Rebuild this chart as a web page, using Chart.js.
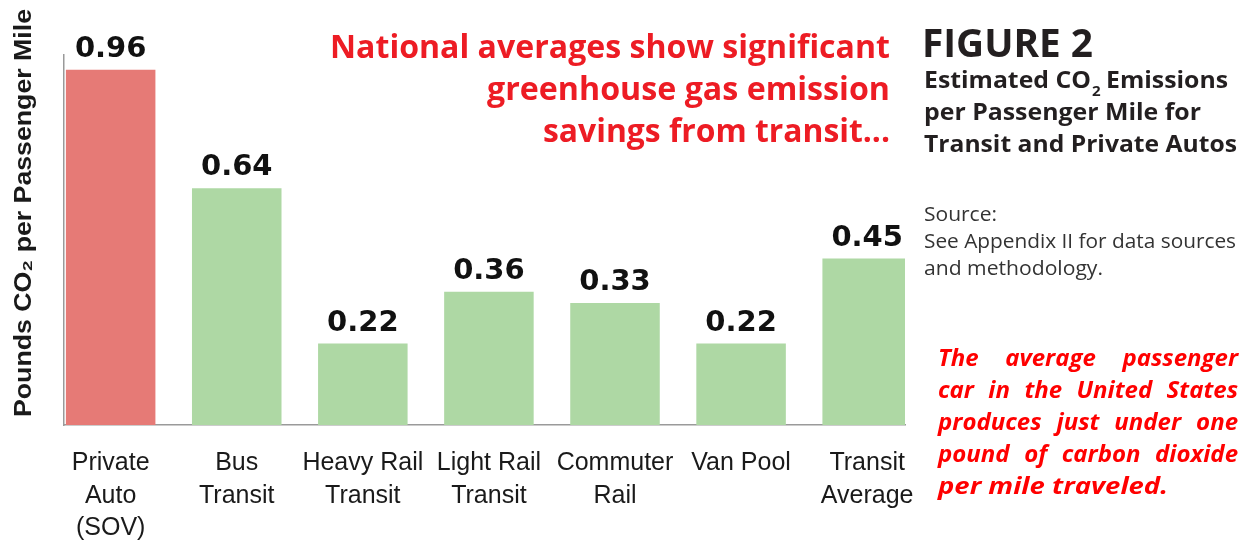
<!DOCTYPE html>
<html>
<head>
<meta charset="utf-8">
<script src="https://cdn.jsdelivr.net/npm/chart.js@4.4.1/dist/chart.umd.min.js"></script>
<style>
  html, body { margin: 0; padding: 0; background: #fff; }
  canvas { display: block; }
</style>
</head>
<body>
<canvas id="co2Chart" width="1248" height="546"></canvas>
<script>
// values
const categories = [
    ['Private', 'Auto', '(SOV)'],
    ['Bus', 'Transit'],
    ['Heavy Rail', 'Transit'],
    ['Light Rail', 'Transit'],
    ['Commuter', 'Rail'],
    ['Van Pool'],
    ['Transit', 'Average'],
];
const emissions = [0.96, 0.64, 0.22, 0.36, 0.33, 0.22, 0.45];
const isAuto = [true, false, false, false, false, false, false];

const headline = ['National averages show significant', 'greenhouse gas emission', 'savings from transit...'];
const subtitle = ['per Passenger Mile for', 'Transit and Private Autos'];
const sourceLines = ['Source:', 'See Appendix II for data sources', 'and methodology.'];
const noteLines = ['The average passenger', 'car in the United States', 'produces just under one', 'pound of carbon dioxide', 'per mile traveled.'];

const autoColor = '#e67a76';
const transitColor = '#aed8a4';

// draw text squeezed/stretched horizontally to an exact width
function stretchText(ctx, text, x, y, width, align) {
    const w = ctx.measureText(text).width;
    const sx = width / w;
    ctx.save();
    ctx.textAlign = 'left';
    ctx.translate(align === 'right' ? x - width : align === 'center' ? x - width / 2 : x, y);
    ctx.scale(sx, 1);
    ctx.fillText(text, 0, 0);
    ctx.restore();
}

function drawJustified(ctx, text, x, y, width, last) {
    const words = text.split(' ');
    const widths = words.map((w) => ctx.measureText(w).width);
    const total = widths.reduce((a, b) => a + b, 0);
    const space = ctx.measureText(' ').width;
    const natural = total + space * (words.length - 1);
    const sx = last ? width / natural : Math.min(1, width / natural);
    ctx.save();
    ctx.translate(x, y);
    ctx.scale(sx, 1);
    let gap = space;
    if (!last && words.length > 1) gap = (width / sx - total) / (words.length - 1);
    let cx = 0;
    words.forEach((w, i) => {
        ctx.fillText(w, cx, 0);
        cx += widths[i] + gap;
    });
    ctx.restore();
}

const decorPlugin = {
    id: 'decor',
    afterDatasetsDraw(chart) {
        const ctx = chart.ctx;
        const meta = chart.getDatasetMeta(0);
        ctx.save();
        ctx.fillStyle = '#111';
        ctx.font = 'bold 29px "DejaVu Sans"';
        ctx.textAlign = 'center';
        ctx.textBaseline = 'alphabetic';
        meta.data.forEach((bar, i) => {
            ctx.fillText(emissions[i].toFixed(2), bar.x, bar.y - 13);
        });
        ctx.restore();
    },
    afterDraw(chart) {
        const ctx = chart.ctx;
        ctx.save();
        ctx.textBaseline = 'alphabetic';

        // y axis title
        ctx.save();
        ctx.translate(31, 0);
        ctx.rotate(-Math.PI / 2);
        ctx.fillStyle = '#1a1a1a';
        ctx.font = 'bold 24px "Liberation Sans"';
        stretchText(ctx, 'Pounds CO\u2082 per Passenger Mile', -213, 0, 408, 'center');
        ctx.restore();

        // red headline
        ctx.fillStyle = '#ed1c24';
        ctx.font = 'bold 33px "Open Sans"';
        stretchText(ctx, headline[0], 890, 58, 560, 'right');
        stretchText(ctx, headline[1], 890, 100, 403, 'right');
        stretchText(ctx, headline[2], 890, 142, 347, 'right');

        // figure title
        ctx.fillStyle = '#231f20';
        ctx.font = 'bold 39px "Open Sans"';
        stretchText(ctx, 'FIGURE 2', 922, 57, 171);

        ctx.font = 'bold 23px "Open Sans"';
        const p1 = 'Estimated CO';
        const p2 = ' Emissions';
        const w1 = ctx.measureText(p1).width;
        const w2 = ctx.measureText(p2).width;
        ctx.font = 'bold 14px "Open Sans"';
        const ws = ctx.measureText('2').width;
        const sx = 304 / (w1 + ws + w2);
        ctx.save();
        ctx.translate(924, 88);
        ctx.scale(sx, 1);
        ctx.font = 'bold 23px "Open Sans"';
        ctx.fillText(p1, 0, 0);
        ctx.font = 'bold 14px "Open Sans"';
        ctx.fillText('2', w1 + 1, 8);
        ctx.font = 'bold 23px "Open Sans"';
        ctx.fillText(p2, w1 + ws, 0);
        ctx.restore();
        ctx.font = 'bold 23px "Open Sans"';
        stretchText(ctx, subtitle[0], 924, 120, 277);
        stretchText(ctx, subtitle[1], 924, 152, 313);

        // source
        ctx.fillStyle = '#333';
        ctx.font = '20px "Open Sans"';
        stretchText(ctx, sourceLines[0], 924, 221, 73);
        stretchText(ctx, sourceLines[1], 924, 248, 312);
        stretchText(ctx, sourceLines[2], 924, 275, 179);

        // red italic note
        ctx.fillStyle = '#ff0000';
        ctx.font = 'italic bold 24px "Open Sans"';
        noteLines.forEach((line, i) => {
            const last = i === noteLines.length - 1;
            drawJustified(ctx, line, 938, 366 + i * 32, last ? 230 : 300, last);
        });

        ctx.restore();
    },
};

new Chart(document.getElementById('co2Chart'), {
    type: 'bar',
    data: {
        datasets: [{
            data: emissions.map((v, i) => ({ x: i, y: v })),
            backgroundColor: isAuto.map((a) => (a ? autoColor : transitColor)),
            borderWidth: 0,
            categoryPercentage: 1,
            barPercentage: 0.71,
        }],
    },
    options: {
        responsive: false,
        animation: false,
        layout: { padding: { left: 64, top: 55, right: 343, bottom: 0 } },
        plugins: { legend: { display: false }, tooltip: { enabled: false } },
        scales: {
            x: {
                type: 'linear',
                offset: false,
                min: -0.37,
                max: 6.3,
                grid: { display: false, drawTicks: false },
                border: { display: true, color: '#9a9a9a', width: 1.5 },
                ticks: {
                    autoSkip: false,
                    maxRotation: 0,
                    padding: 22,
                    color: '#1a1a1a',
                    font: { family: '"Liberation Sans"', size: 25, lineHeight: 1.3 },
                    callback: (value) => categories[value],
                },
                afterBuildTicks: (scale) => {
                    scale.ticks = categories.map((c, i) => ({ value: i }));
                },
                afterFit: (scale) => { scale.height = 121; },
            },
            y: {
                min: 0,
                max: 1,
                grid: { display: false, drawTicks: false },
                border: { display: true, color: '#9a9a9a', width: 1.5 },
                ticks: { display: false },
                afterFit: (scale) => { scale.width = 0; },
            },
        },
    },
    plugins: [decorPlugin],
});
</script>
</body>
</html>
